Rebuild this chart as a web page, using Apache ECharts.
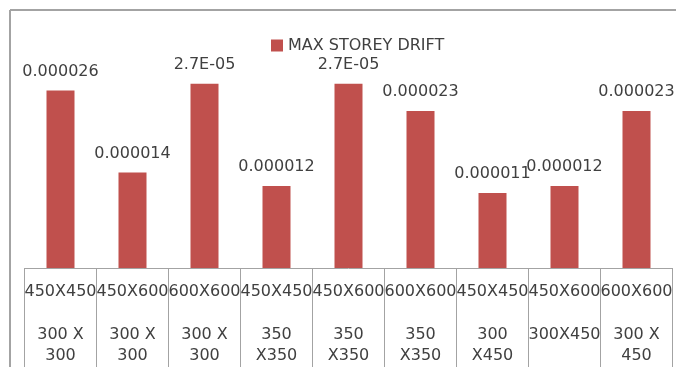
<!DOCTYPE html>
<html>
<head>
<meta charset="utf-8">
<script src="https://cdn.jsdelivr.net/npm/echarts@6/dist/echarts.min.js"></script>
<style>
  html, body { margin: 0; padding: 0; background: #ffffff; }
  #chart { width: 676px; height: 367px; }
</style>
</head>
<body>
<div id="chart"></div>
<script>
// Column sizes (inner level) and beam sizes (outer level)
const columnSizes = ['450X450', '450X600', '600X600', '450X450', '450X600', '600X600', '450X450', '450X600', '600X600'];
const beamSizes = ['300 X 300', '300 X 300', '300 X 300', '350 X350', '350 X350', '350 X350', '300 X450', '300X450', '300 X 450'];
// Maximum storey drift per combination
const maxStoreyDrift = [0.000026, 0.000014, 0.000027, 0.000012, 0.000027, 0.000023, 0.000011, 0.000012, 0.000023];
// Labels shown in scientific notation
const scientificLabel = [false, false, true, false, true, false, false, false, false];
const seriesName = 'MAX STOREY DRIFT';

const FONT = 'DejaVu Sans';
const TEXT = '#404040';
const LINE = '#a3a3a3';

// Outer-level label wraps at its last space
function wrapOuter(s) {
  const i = s.lastIndexOf(' ');
  return i < 0 ? s : s.slice(0, i) + '\n' + s.slice(i + 1);
}

function driftLabel(v, i) {
  if (scientificLabel[i]) {
    const [m, e] = v.toExponential(1).split('e');
    const n = parseInt(e, 10);
    return m + 'E' + (n < 0 ? '-' : '+') + String(Math.abs(n)).padStart(2, '0');
  }
  return v.toFixed(6);
}

const chart = echarts.init(document.getElementById('chart'));
chart.setOption({
  animation: false,
  backgroundColor: '#ffffff',
  textStyle: { fontFamily: FONT },
  // chart-area frame: top and left edges
  graphic: [
    { type: 'line', shape: { x1: 10, y1: 10, x2: 676, y2: 10 }, style: { stroke: LINE, lineWidth: 2 }, silent: true },
    { type: 'line', shape: { x1: 10, y1: 10, x2: 10, y2: 367 }, style: { stroke: LINE, lineWidth: 2 }, silent: true }
  ],
  legend: {
    data: [seriesName],
    left: 266,
    top: 32.5,
    itemWidth: 12,
    itemHeight: 12,
    icon: 'rect',
    textStyle: { fontFamily: FONT, fontSize: 16, color: TEXT }
  },
  grid: { left: 24.5, width: 648, top: 63.2, bottom: 95 },
  xAxis: {
    type: 'category',
    data: columnSizes.map((c, i) => c + '\n\n' + wrapOuter(beamSizes[i])),
    axisLine: { lineStyle: { color: LINE, width: 1 } },
    axisTick: { show: true, length: 100, interval: 0, lineStyle: { color: LINE, width: 1 } },
    axisLabel: {
      interval: 0,
      margin: 13,
      fontFamily: FONT,
      fontSize: 16,
      lineHeight: 21.5,
      color: TEXT
    }
  },
  yAxis: {
    type: 'value',
    min: 0,
    max: 0.00003,
    show: false,
    splitLine: { show: false }
  },
  series: [{
    name: seriesName,
    type: 'bar',
    data: maxStoreyDrift,
    barWidth: 28,
    itemStyle: { color: '#c0504d' },
    label: {
      show: true,
      position: 'top',
      distance: 11,
      fontFamily: FONT,
      fontSize: 16,
      lineHeight: 16,
      color: TEXT,
      formatter: p => driftLabel(p.value, p.dataIndex)
    }
  }]
});
</script>
</body>
</html>
